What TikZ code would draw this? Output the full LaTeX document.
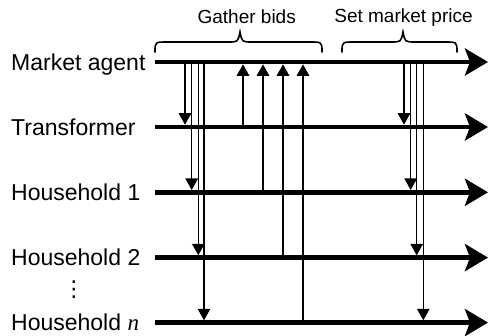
\documentclass[tikz,border=0pt]{standalone}
\usepackage{fontspec}
\setmainfont{Liberation Sans}
\newfontfamily\serifit{Liberation Serif}
\newfontfamily\symfont{DejaVu Sans}
\usetikzlibrary{arrows.meta}
\begin{document}
\begin{tikzpicture}[x=1pt,y=-1pt,
  timeline/.style={line width=4.6pt, -{Stealth[length=23pt,width=27pt,inset=5pt]}},
  msg/.style={line width=1.2pt, -{Triangle[length=11.5pt,width=12.5pt]}, shorten >=2.3pt},
  lane/.style={anchor=base west, font=\fontsize{23}{27}\selectfont, inner sep=0pt},
  phase/.style={anchor=base, font=\fontsize{19}{23}\selectfont, inner sep=0pt},
  brace/.style={line width=1.6pt, line cap=round}]
\useasboundingbox (0,0) rectangle (488,336);

% starts and ends of the timelines
\coordinate (ma) at (155,62);    \coordinate (ma-e) at (488,62);
\coordinate (tr) at (155,127);   \coordinate (tr-e) at (488,127);
\coordinate (h1) at (155,192.3); \coordinate (h1-e) at (488,192.3);
\coordinate (h2) at (155,257.6); \coordinate (h2-e) at (488,257.6);
\coordinate (hn) at (155,322.6); \coordinate (hn-e) at (488,322.6);

% participant labels
\node[lane] (l-ma) at (11,70.3)    {Market agent};
\node[lane] (l-tr) at (11,135.3)   {Transformer};
\node[lane] (l-h1) at (11,200.6) {Household 1};
\node[lane] (l-h2) at (11,265.9) {Household 2};
\node[lane] (l-hn) at (11,330.9) {Household {\serifit\itshape n}};
\node[inner sep=0pt] (dots) at (74,289.5) {\symfont\fontsize{22}{22}\selectfont ⋮};

% timelines
\foreach \t in {ma,tr,h1,h2,hn}
  \draw[timeline] (\t) -- (\t-e);

% gather bids: requests down, bids back up
\draw[msg] ([xshift=30pt]ma)   -- ([xshift=30pt]tr);
\draw[msg] ([xshift=36.7pt]ma) -- ([xshift=36.7pt]h1);
\draw[msg] ([xshift=43.3pt]ma) -- ([xshift=43.3pt]h2);
\draw[msg] ([xshift=49pt]ma)   -- ([xshift=49pt]hn);
\draw[msg] ([xshift=88pt]tr)   -- ([xshift=88pt]ma);
\draw[msg] ([xshift=108pt]h1)  -- ([xshift=108pt]ma);
\draw[msg] ([xshift=128pt]h2)  -- ([xshift=128pt]ma);
\draw[msg] ([xshift=148pt]hn)  -- ([xshift=148pt]ma);

% set market price: broadcast down
\draw[msg] ([xshift=249pt]ma)   -- ([xshift=249pt]tr);
\draw[msg] ([xshift=255.7pt]ma) -- ([xshift=255.7pt]h1);
\draw[msg] ([xshift=261.7pt]ma) -- ([xshift=261.7pt]h2);
\draw[msg] ([xshift=268.3pt]ma) -- ([xshift=268.3pt]hn);

% phase braces
\draw[brace] (155,52) .. controls (155,42) .. (167,42) -- (228,42)
  .. controls (238,42) .. (240,32) .. controls (242,42) .. (252,42) -- (310,42)
  .. controls (322,42) .. (322,52);
\draw[brace] (342,52) .. controls (342,42) .. (354,42) -- (391,42)
  .. controls (401,42) .. (403,32) .. controls (405,42) .. (415,42) -- (445,42)
  .. controls (457,42) .. (457,52);

% phase labels
\node[phase] (gather) at (246.7,23.3) {Gather bids};
\node[phase] (price) at (403.5,22.7) {Set market price};
\end{tikzpicture}
\end{document}
